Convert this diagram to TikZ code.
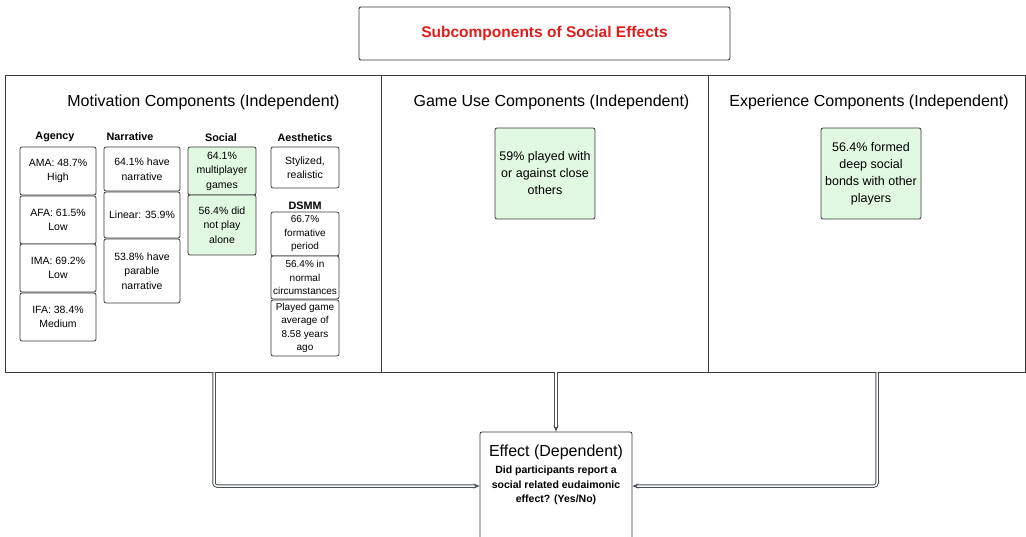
\documentclass[tikz,border=0pt]{standalone}
\usepackage{fontspec}
\setmainfont{Liberation Sans}
\usetikzlibrary{arrows.meta}
\definecolor{linec}{HTML}{3A3A3A}
\definecolor{connc}{HTML}{4A4E56}
\definecolor{greenf}{HTML}{E1F8E1}
\definecolor{titlered}{HTML}{E41B1B}
\begin{document}
\begin{tikzpicture}[x=1pt,y=-1pt,
  panel/.style={draw=linec, line width=0.9pt, inner sep=0pt},
  bx/.style={draw=linec, line width=0.8pt, rounded corners=2pt, fill=white, align=center, inner sep=0pt, font=\fontsize{10.5}{14.5}\selectfont},
  gbx/.style={bx, fill=greenf},
  dbx/.style={bx, font=\fontsize{10}{13.5}\selectfont},
  hdr/.style={font=\bfseries\fontsize{10.8}{12}\selectfont, inner sep=0pt},
  ptitle/.style={font=\fontsize{16}{18}\selectfont, inner sep=0pt},
  bigg/.style={gbx, font=\fontsize{12.5}{17}\selectfont},
  conn/.style={draw=connc, double=white, double distance=1.5pt, line width=1pt, rounded corners=3pt, -{Stealth[length=6pt,width=5pt]}}
]
\useasboundingbox (0,0) rectangle (1026,536);
\clip (0,0) rectangle (1026,536);

% title
\node[draw=linec, line width=0.9pt, rounded corners=2pt, minimum width=371pt, minimum height=53pt, inner sep=0pt,
  font=\bfseries\fontsize{15.5}{17}\selectfont, text=titlered] (title) at (544.5,33.5) {Subcomponents of Social Effects};

% panels
\node[panel, minimum width=376pt, minimum height=297pt] (mot) at (193,223.5) {};
\node[panel, minimum width=327pt, minimum height=297pt] (gup) at (544.5,223.5) {};
\node[panel, minimum width=317pt, minimum height=297pt] (exp) at (866.5,223.5) {};

\node[ptitle] (motT) at (203.5,102) {Motivation Components (Independent)};
\node[ptitle] (gupT) at (551.5,102) {Game Use Components (Independent)};
\node[ptitle] (expT) at (869,102) {Experience Components (Independent)};

% headers
\node[hdr] (hAg) at (55,137) {Agency};
\node[hdr] (hNa) at (130,137) {Narrative};
\node[hdr] (hSo) at (221,138) {Social};
\node[hdr] (hAe) at (305,138) {Aesthetics};
\node[hdr] (hDs) at (305,206) {DSMM};

% agency
\node[bx, minimum width=76pt, minimum height=48pt] (ama) at (58,171) {AMA: 48.7\%\\High};
\node[bx, minimum width=76pt, minimum height=48pt] (afa) at (58,220) {AFA: 61.5\%\\Low};
\node[bx, minimum width=76pt, minimum height=48pt] (ima) at (58,268) {IMA: 69.2\%\\Low};
\node[bx, minimum width=76pt, minimum height=48pt] (ifa) at (58,317) {IFA: 38.4\%\\Medium};

% narrative
\node[bx, minimum width=76pt, minimum height=44pt] (n1) at (142,169) {64.1\% have\\narrative};
\node[bx, minimum width=76pt, minimum height=46pt] (n2) at (142,215) {Linear: 35.9\%};
\node[bx, minimum width=76pt, minimum height=64pt] (n3) at (142,271) {53.8\% have\\parable\\narrative};

% social
\node[gbx, minimum width=68pt, minimum height=48pt] (s1) at (222,171) {64.1\%\\multiplayer\\games};
\node[gbx, minimum width=68pt, minimum height=60pt] (s2) at (222,225) {56.4\% did\\not play\\alone};

% aesthetics
\node[bx, minimum width=68pt, minimum height=41pt] (a1) at (305,167.5) {Stylized,\\realistic};

% DSMM
\node[dbx, minimum width=68pt, minimum height=44pt] (d1) at (305,234) {66.7\%\\formative\\period};
\node[dbx, minimum width=68pt, minimum height=43pt] (d2) at (305,277.5) {56.4\% in\\normal\\circumstances};
\node[dbx, minimum width=68pt, minimum height=56pt] (d3) at (305,328) {Played game\\average of\\8.58 years\\ago};

% big green boxes
\node[bigg, minimum width=100pt, minimum height=91pt] (gu1) at (545,173.5) {59\% played with\\or against close\\others};
\node[bigg, minimum width=100pt, minimum height=91pt] (ex1) at (871,173.5) {56.4\% formed\\deep social\\bonds with other\\players};

% effect
\node[draw=linec, line width=0.9pt, rounded corners=2pt, minimum width=152pt, minimum height=114pt, inner sep=0pt] (eff) at (556,489) {};
\node[ptitle] (effT) at (556,452) {Effect (Dependent)};
\node[align=center, inner sep=0pt, font=\bfseries\fontsize{10.5}{14.5}\selectfont] (effQ) at (556,485.5) {Did participants report a\\social related eudaimonic\\effect? (Yes/No)};

% connectors
\coordinate (lc) at (214,486);
\coordinate (rc) at (877,486);
\draw[conn] (mot.south -| lc) -- (lc) -- (eff.west |- lc);
\draw[conn] (gup.south -| eff.north) -- (eff.north);
\draw[conn] (exp.south -| rc) -- (rc) -- (eff.east |- rc);
\end{tikzpicture}
\end{document}
